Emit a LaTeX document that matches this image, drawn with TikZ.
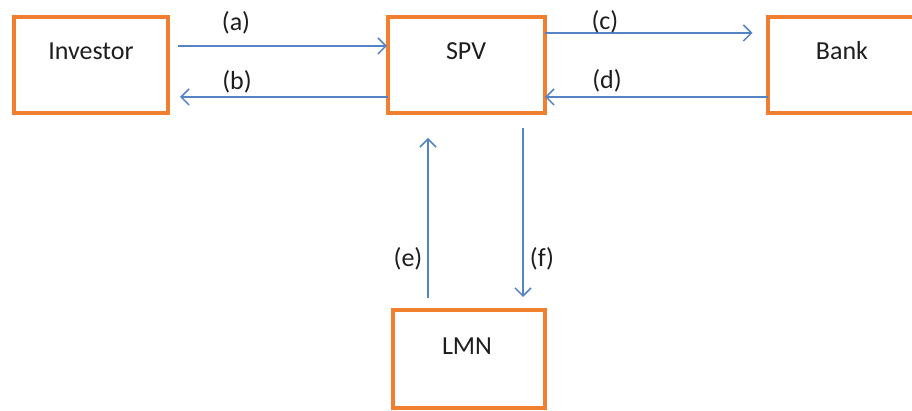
\documentclass[tikz,border=0pt]{standalone}
\usepackage{fontspec}
\setmainfont{Carlito}
\usetikzlibrary{arrows.meta}
\definecolor{boxorange}{RGB}{240,128,48}
\definecolor{arrowblue}{RGB}{84,132,196}
\definecolor{txt}{RGB}{30,30,30}
\begin{document}
\begin{tikzpicture}[x=0.5pt,y=-0.5pt,
  box/.style={draw=boxorange,line width=2pt,fill=white,minimum width=#1,minimum height=48pt,inner sep=0pt,outer sep=0pt},
  boxtext/.style={anchor=base,font=\fontsize{13}{15}\selectfont,text=txt,inner sep=0pt},
  lbl/.style={font=\fontsize{13}{15}\selectfont,text=txt,inner sep=0pt},
  arr/.style={draw=arrowblue,line width=0.75pt,-{Straight Barb[length=4pt,width=8pt,line width=0.75pt]}}]
\useasboundingbox (0,0) rectangle (912,411);
\fill[white] (0,0) rectangle (912,411);
% boxes
\node[box=77pt] (inv) at (91,65) {};
\node[box=78.5pt] (spv) at (466.5,65) {};
\node[box=78.5pt] (bank) at (846,65) {};
\node[box=76pt,minimum height=49pt] (lmn) at (469,359) {};
% texts
\node[boxtext] (tinv) at (91,60) {Investor};
\node[boxtext] (tspv) at (466,60) {SPV};
\node[boxtext] (tbank) at (842,60) {Bank};
\node[boxtext] (tlmn) at (467,355) {LMN};
% connectors
\draw[arr,shorten <=5pt,shorten >=0.5pt] (inv.east |- 0,46) -- (spv.west |- 0,46);
\draw[arr,shorten >=6pt] (spv.west |- 0,97) -- (inv.east |- 0,97);
\draw[arr,shorten >=7.5pt] (spv.east |- 0,33) -- (bank.west |- 0,33);
\draw[arr] (bank.west |- 0,97) -- (spv.east |- 0,97);
\draw[arr,shorten <=6pt,shorten >=12.5pt] (lmn.north -| 428,0) -- (spv.south -| 428,0);
\draw[arr,shorten <=7.5pt,shorten >=6.5pt] (spv.south -| 523,0) -- (lmn.north -| 523,0);
% labels
\node[lbl] (la) at (236,23) {(a)};
\node[lbl] (lb) at (237,82) {(b)};
\node[lbl] (lc) at (605,22) {(c)};
\node[lbl] (ld) at (607,81) {(d)};
\node[lbl] (le) at (408,259) {(e)};
\node[lbl] (lf) at (542,259) {(f)};
\end{tikzpicture}
\end{document}
